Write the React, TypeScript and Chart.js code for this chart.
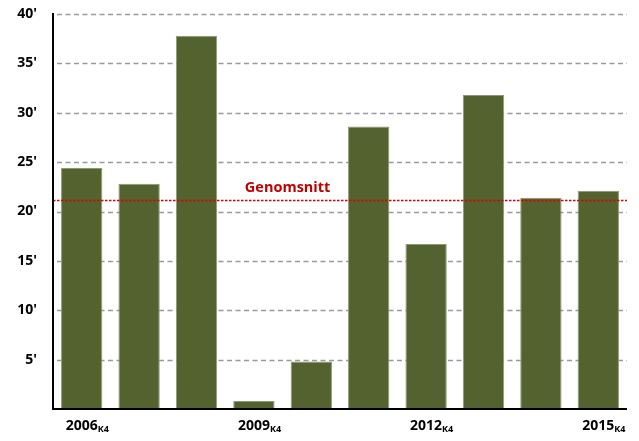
import React, { useEffect, useRef } from "react";
import { Chart, registerables } from "chart.js";

Chart.register(...registerables);

const years = ["2006", "2007", "2008", "2009", "2010", "2011", "2012", "2013", "2014", "2015"];
const quarterSuffix = "K4";
const shownLabelIndexes = [0, 3, 6, 9];
const values = [24.4, 22.8, 37.8, 0.8, 4.8, 28.6, 16.7, 31.8, 21.4, 22.1];
const yTicks = [5, 10, 15, 20, 25, 30, 35, 40];
const averageLabel = "Genomsnitt";

const FONT = "'Open Sans', 'Liberation Sans', sans-serif";

export default function App() {
  const ref = useRef<HTMLCanvasElement | null>(null);

  useEffect(() => {
    if (!ref.current) return;
    const avg = values.reduce((a, b) => a + b, 0) / values.length;

    const overlay = {
      id: "overlay",
      beforeDatasetsDraw(chart: any) {
        const { ctx, chartArea, scales } = chart;
        ctx.save();
        ctx.strokeStyle = "#9a9a9a";
        ctx.lineWidth = 1.5;
        ctx.setLineDash([5, 3.5]);
        yTicks.forEach((v) => {
          const y = Math.round(scales.y.getPixelForValue(v)) + 0.5;
          ctx.beginPath();
          ctx.moveTo(chartArea.left + 4, y);
          ctx.lineTo(chartArea.right, y);
          ctx.stroke();
        });
        ctx.restore();
      },
      afterDatasetsDraw(chart: any) {
        const { ctx, chartArea, scales } = chart;
        const y = scales.y.getPixelForValue(avg);
        ctx.save();
        ctx.strokeStyle = "#e00000";
        ctx.lineWidth = 1.5;
        ctx.setLineDash([2.5, 1.5]);
        ctx.beginPath();
        ctx.moveTo(chartArea.left, y);
        ctx.lineTo(chartArea.right, y);
        ctx.stroke();
        ctx.setLineDash([]);
        ctx.fillStyle = "#c00000";
        ctx.font = `bold 14.5px ${FONT}`;
        ctx.textAlign = "center";
        ctx.textBaseline = "alphabetic";
        const cx = (scales.x.getPixelForValue(3) + scales.x.getPixelForValue(4)) / 2 + 5;
        ctx.fillText(averageLabel, cx, y - 8);
        // axes
        ctx.strokeStyle = "#000";
        ctx.lineWidth = 2;
        ctx.beginPath();
        ctx.moveTo(chartArea.left, chartArea.top - 1);
        ctx.lineTo(chartArea.left, chartArea.bottom);
        ctx.lineTo(chartArea.right, chartArea.bottom);
        ctx.stroke();
        ctx.restore();
      },
      afterDraw(chart: any) {
        const { ctx, scales, chartArea } = chart;
        ctx.save();
        ctx.fillStyle = "#000";
        ctx.textBaseline = "alphabetic";
        shownLabelIndexes.forEach((i) => {
          const x = scales.x.getPixelForValue(i);
          const baseY = chartArea.bottom + 21;
          ctx.font = `bold 14px ${FONT}`;
          ctx.textAlign = "center";
          const main = years[i];
          const w = ctx.measureText(main).width;
          ctx.fillText(main, x, baseY);
          ctx.font = `bold 9px ${FONT}`;
          ctx.textAlign = "left";
          ctx.fillText(quarterSuffix, x + w / 2, baseY + 2);
        });
        ctx.restore();
      },
    };

    const chart = new Chart(ref.current, {
      type: "bar",
      data: {
        labels: years.map((y) => y + quarterSuffix),
        datasets: [
          {
            data: values,
            backgroundColor: "#53622e",
            borderColor: "#8c9a74",
            borderWidth: 1,
            categoryPercentage: 1,
            barPercentage: 0.72,
          },
        ],
      },
      options: {
        animation: false,
        responsive: false,
        maintainAspectRatio: false,
        layout: { padding: { top: 14, right: 12, left: 0, bottom: 0 } },
        plugins: { legend: { display: false }, tooltip: { enabled: false } },
        scales: {
          x: {
            grid: { display: false, drawTicks: false },
            border: { display: false },
            ticks: { display: false },
            afterFit(scale: any) {
              scale.height = 32;
            },
          },
          y: {
            min: 0,
            max: 40,
            afterBuildTicks(scale: any) {
              scale.ticks = yTicks.map((v) => ({ value: v }));
            },
            afterFit(scale: any) {
              scale.width = 53;
              scale.paddingTop = 0;
              scale.paddingBottom = 0;
            },
            grid: { display: false, drawTicks: false },
            border: { display: false },
            ticks: {
              color: "#000",
              padding: 16,
              font: { family: FONT, weight: "bold", size: 14 },
              callback: (v: any) => `${v}'`,
            },
          },
        },
      },
      plugins: [overlay],
    });
    return () => chart.destroy();
  }, []);

  return (
    <div style={{ position: "fixed", left: 0, top: 0, width: 639, height: 441, background: "#fff" }}>
      <canvas ref={ref} width={639} height={441} style={{ width: 639, height: 441 }} />
    </div>
  );
}
